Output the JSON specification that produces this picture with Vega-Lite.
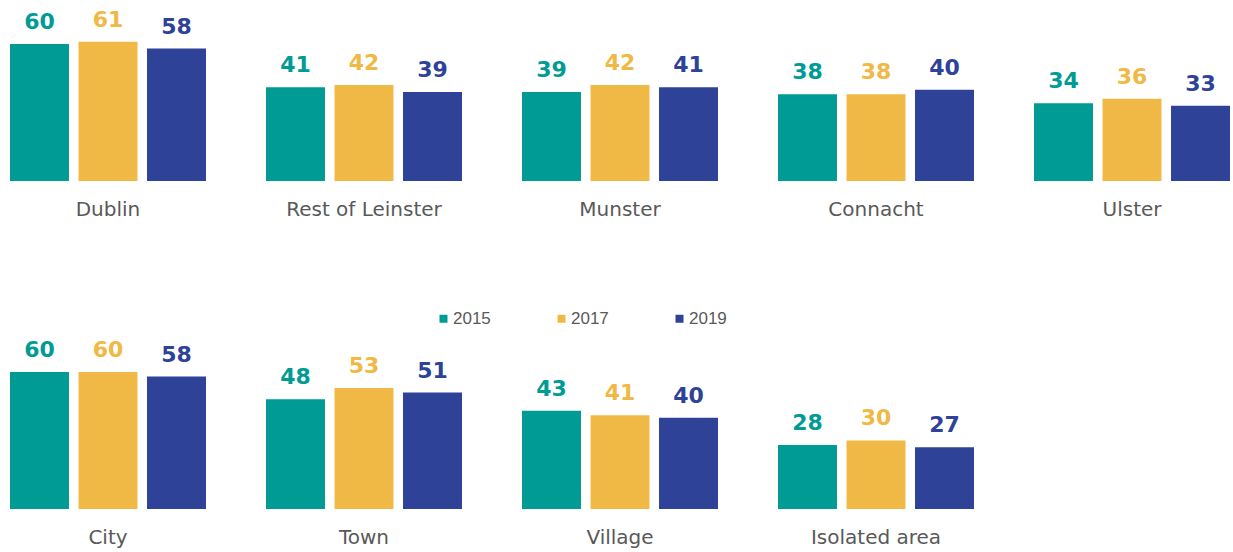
{
  "$schema": "https://vega.github.io/schema/vega-lite/v6.json",
  "padding": {"left": 10, "top": 4, "right": 5, "bottom": 5},
  "background": "white",
  "bounds": "flush",
  "spacing": 151,
  "config": {
    "view": {"stroke": null},
    "font": "DejaVu Sans"
  },
  "datasets": {
    "all": [
      {"row": "region", "group": "Dublin", "year": "2015", "value": 60},
      {"row": "region", "group": "Dublin", "year": "2017", "value": 61},
      {"row": "region", "group": "Dublin", "year": "2019", "value": 58},
      {"row": "region", "group": "Rest of Leinster", "year": "2015", "value": 41},
      {"row": "region", "group": "Rest of Leinster", "year": "2017", "value": 42},
      {"row": "region", "group": "Rest of Leinster", "year": "2019", "value": 39},
      {"row": "region", "group": "Munster", "year": "2015", "value": 39},
      {"row": "region", "group": "Munster", "year": "2017", "value": 42},
      {"row": "region", "group": "Munster", "year": "2019", "value": 41},
      {"row": "region", "group": "Connacht", "year": "2015", "value": 38},
      {"row": "region", "group": "Connacht", "year": "2017", "value": 38},
      {"row": "region", "group": "Connacht", "year": "2019", "value": 40},
      {"row": "region", "group": "Ulster", "year": "2015", "value": 34},
      {"row": "region", "group": "Ulster", "year": "2017", "value": 36},
      {"row": "region", "group": "Ulster", "year": "2019", "value": 33},
      {"row": "area", "group": "City", "year": "2015", "value": 60},
      {"row": "area", "group": "City", "year": "2017", "value": 60},
      {"row": "area", "group": "City", "year": "2019", "value": 58},
      {"row": "area", "group": "Town", "year": "2015", "value": 48},
      {"row": "area", "group": "Town", "year": "2017", "value": 53},
      {"row": "area", "group": "Town", "year": "2019", "value": 51},
      {"row": "area", "group": "Village", "year": "2015", "value": 43},
      {"row": "area", "group": "Village", "year": "2017", "value": 41},
      {"row": "area", "group": "Village", "year": "2019", "value": 40},
      {"row": "area", "group": "Isolated area", "year": "2015", "value": 28},
      {"row": "area", "group": "Isolated area", "year": "2017", "value": 30},
      {"row": "area", "group": "Isolated area", "year": "2019", "value": 27}
    ]
  },
  "resolve": {"legend": {"color": "independent"}},
  "vconcat": [
    {
      "width": 1220,
      "height": 177,
      "data": {"name": "all"},
      "transform": [{"filter": "datum.row === 'region'"}],
      "encoding": {
        "x": {
          "field": "group", "type": "nominal",
          "sort": ["Dublin", "Rest of Leinster", "Munster", "Connacht", "Ulster"],
          "scale": {"paddingInner": 0.234375, "paddingOuter": 0},
          "axis": {"title": null, "domain": false, "ticks": false, "labelAngle": 0, "labelPadding": 18, "labelFontSize": 20, "labelColor": "#595959", "labelFont": "DejaVu Sans"}
        },
        "xOffset": {"field": "year", "type": "nominal", "scale": {"paddingInner": 0.139, "paddingOuter": 0}},
        "y": {"field": "value", "type": "quantitative", "scale": {"domain": [0, 77.5]}, "axis": null},
        "color": {
          "field": "year", "type": "nominal",
          "scale": {"domain": ["2015", "2017", "2019"], "range": ["#009B95", "#F0B945", "#2E4397"]},
          "legend": null
        }
      },
      "layer": [
        {"mark": {"type": "bar"}},
        {"mark": {"type": "text", "baseline": "alphabetic", "dy": -15, "fontSize": 22, "fontWeight": "bold", "font": "DejaVu Sans"}, "encoding": {"text": {"field": "value", "type": "quantitative"}}}
      ]
    },
    {
      "width": 964,
      "height": 177,
      "data": {"name": "all"},
      "transform": [{"filter": "datum.row === 'area'"}],
      "encoding": {
        "x": {
          "field": "group", "type": "nominal",
          "sort": ["City", "Town", "Village", "Isolated area"],
          "scale": {"paddingInner": 0.234375, "paddingOuter": 0},
          "axis": {"title": null, "domain": false, "ticks": false, "labelAngle": 0, "labelPadding": 18, "labelFontSize": 20, "labelColor": "#595959", "labelFont": "DejaVu Sans"}
        },
        "xOffset": {"field": "year", "type": "nominal", "scale": {"paddingInner": 0.139, "paddingOuter": 0}},
        "y": {"field": "value", "type": "quantitative", "scale": {"domain": [0, 77.5]}, "axis": null},
        "color": {
          "field": "year", "type": "nominal",
          "scale": {"domain": ["2015", "2017", "2019"], "range": ["#009B95", "#F0B945", "#2E4397"]},
          "legend": {
            "title": null, "orient": "none", "direction": "horizontal",
            "legendX": 425, "legendY": -22,
            "symbolType": "square", "symbolSize": 64, "symbolStrokeWidth": 0,
            "labelFontSize": 17, "labelColor": "#595959", "labelFont": "Liberation Sans",
            "labelOffset": 1, "columnPadding": 62
          }
        }
      },
      "layer": [
        {"mark": {"type": "bar"}},
        {"mark": {"type": "text", "baseline": "alphabetic", "dy": -15, "fontSize": 22, "fontWeight": "bold", "font": "DejaVu Sans"}, "encoding": {"text": {"field": "value", "type": "quantitative"}}}
      ]
    }
  ]
}
